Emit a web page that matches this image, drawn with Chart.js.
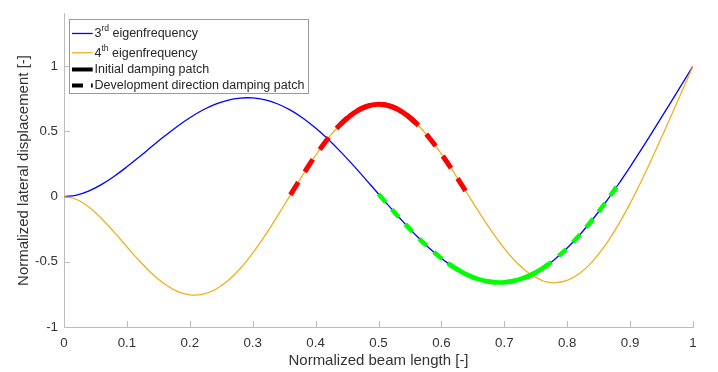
<!DOCTYPE html>
<html>
<head>
<meta charset="utf-8">
<title>Beam eigenmodes</title>
<script src="https://cdn.jsdelivr.net/npm/chart.js@4.4.1/dist/chart.umd.min.js"></script>
<style>
  body { margin: 0; background: #fff; }
  canvas { display: block; }
</style>
</head>
<body>
<canvas id="modeChart" width="718" height="372"></canvas>
<script>
// position along the beam (0 = clamped end, 1 = free tip)
const beamX = [
  0, 0.02, 0.04, 0.06, 0.08, 0.10, 0.12, 0.14, 0.16, 0.18, 0.20,
  0.22, 0.24, 0.26, 0.28, 0.30, 0.32, 0.34, 0.36, 0.38, 0.40,
  0.42, 0.44, 0.46, 0.48, 0.50, 0.52, 0.54, 0.56, 0.58, 0.60,
  0.61, 0.62, 0.64, 0.66, 0.68, 0.70, 0.72, 0.74, 0.76, 0.77, 0.78,
  0.80, 0.82, 0.84, 0.86, 0.88, 0.90, 0.92, 0.94, 0.96, 0.98, 1
];

// lateral displacement, normalised to the tip value
const thirdMode = [
  0, 0.0117, 0.0442, 0.0936, 0.1562, 0.2281, 0.3056, 0.3852, 0.4636, 0.5377, 0.6045,
  0.6616, 0.7069, 0.7385, 0.7553, 0.7562, 0.7410, 0.7097, 0.6627, 0.6010, 0.5259,
  0.4392, 0.3428, 0.2391, 0.1305, 0.0197, -0.0907, -0.1978, -0.2990, -0.3918, -0.4738,
  -0.5100, -0.5428, -0.5970, -0.6349, -0.6553, -0.6574, -0.6409, -0.6059, -0.5526, -0.5193, -0.4819,
  -0.3949, -0.2930, -0.1778, -0.0512, 0.0849, 0.2285, 0.3778, 0.5309, 0.6864, 0.8431, 1
];

const fourthMode = [
  0, -0.0224, -0.0826, -0.1699, -0.2740, -0.3850, -0.4936, -0.5913, -0.6709, -0.7265, -0.7538,
  -0.7501, -0.7146, -0.6482, -0.5532, -0.4339, -0.2954, -0.1440, 0.0131, 0.1687, 0.3156,
  0.4467, 0.5558, 0.6380, 0.6892, 0.7071, 0.6910, 0.6417, 0.5616, 0.4548, 0.3265,
  0.2562, 0.1830, 0.0313, -0.1210, -0.2663, -0.3974, -0.5076, -0.5911, -0.6434, -0.6568, -0.6613,
  -0.6430, -0.5884, -0.4988, -0.3769, -0.2264, -0.0520, 0.1409, 0.3471, 0.5616, 0.7801, 1
];

// damping patch extents along the beam
const redInitial = [0.44, 0.56];
const redDevelopment = [0.36, 0.64];
const greenInitial = [0.61, 0.77];
const greenDevelopment = [0.50, 0.88];

const xTicks = [0, 0.1, 0.2, 0.3, 0.4, 0.5, 0.6, 0.7, 0.8, 0.9, 1];
const yTicks = [-1, -0.5, 0, 0.5, 1];

// legend text: [main, superscript, rest]
const legendLabels = [
  ['3', 'rd', ' eigenfrequency'],
  ['4', 'th', ' eigenfrequency'],
  ['Initial damping patch'],
  ['Development direction damping patch']
];

const FONT = '"Liberation Sans", Arial, Helvetica, sans-serif';
const AXIS_COLOR = '#bdbdbd';
const TEXT_COLOR = '#333333';

function curve(ys, range) {
  const pts = [];
  beamX.forEach((x, i) => {
    if (!range || (x >= range[0] - 1e-9 && x <= range[1] + 1e-9)) {
      pts.push({ x: x, y: ys[i] });
    }
  });
  return pts;
}

// MATLAB style ticks pointing into the axes
const innerTicks = {
  id: 'innerTicks',
  beforeDatasetsDraw(chart) {
    const { ctx, chartArea, scales } = chart;
    const len = 6;
    ctx.save();
    ctx.strokeStyle = AXIS_COLOR;
    ctx.lineWidth = 1;
    ctx.beginPath();
    xTicks.forEach(v => {
      const x = Math.round(scales.x.getPixelForValue(v)) + 0.5;
      ctx.moveTo(x, chartArea.bottom);
      ctx.lineTo(x, chartArea.bottom - len);
    });
    yTicks.forEach(v => {
      const y = Math.round(scales.y.getPixelForValue(v)) + 0.5;
      ctx.moveTo(chartArea.left, y);
      ctx.lineTo(chartArea.left + len, y);
    });
    ctx.stroke();
    ctx.restore();
  }
};

// boxed legend with superscript ordinals
const patchLegend = {
  id: 'patchLegend',
  afterDraw(chart) {
    const { ctx, chartArea } = chart;
    const left = chartArea.left + 5.5;
    const top = chartArea.top + 5.5;
    const rowCenters = [14, 33.3, 50, 66];
    const samples = [
      { color: '#0000ff', width: 1.3, dash: [] },
      { color: '#edb120', width: 1.3, dash: [] },
      { color: '#000000', width: 4, dash: [] },
      { color: '#000000', width: 4, dash: [11, 8] }
    ];
    const mainFont = '12.5px ' + FONT;
    const supFont = '8.5px ' + FONT;
    const textX = left + 25;

    ctx.save();
    let maxW = 0;
    legendLabels.forEach(parts => {
      ctx.font = mainFont;
      let w = ctx.measureText(parts[0]).width;
      if (parts.length > 1) {
        ctx.font = supFont;
        w += ctx.measureText(parts[1]).width;
        ctx.font = mainFont;
        w += ctx.measureText(parts[2]).width;
      }
      maxW = Math.max(maxW, w);
    });
    const boxW = Math.round(textX + maxW + 4 - left);
    const boxH = 74;

    ctx.fillStyle = '#ffffff';
    ctx.fillRect(left, top, boxW, boxH);
    ctx.strokeStyle = '#9a9a9a';
    ctx.lineWidth = 1;
    ctx.strokeRect(left, top, boxW, boxH);

    legendLabels.forEach((parts, i) => {
      const cy = top + rowCenters[i];
      const s = samples[i];
      ctx.strokeStyle = s.color;
      ctx.lineWidth = s.width;
      ctx.setLineDash(s.dash);
      ctx.beginPath();
      ctx.moveTo(left + 2.5, cy);
      ctx.lineTo(left + 23.2, cy);
      ctx.stroke();
      ctx.setLineDash([]);

      const base = cy + 4;
      ctx.fillStyle = '#262626';
      ctx.textBaseline = 'alphabetic';
      ctx.textAlign = 'left';
      ctx.font = mainFont;
      let x = textX;
      ctx.fillText(parts[0], x, base);
      x += ctx.measureText(parts[0]).width;
      if (parts.length > 1) {
        ctx.font = supFont;
        ctx.fillText(parts[1], x, base - 6);
        x += ctx.measureText(parts[1]).width;
        ctx.font = mainFont;
        ctx.fillText(parts[2], x, base);
      }
    });
    ctx.restore();
  }
};

const lineBase = {
  pointRadius: 0,
  pointHoverRadius: 0,
  fill: false,
  tension: 0.4
};

new Chart(document.getElementById('modeChart'), {
  type: 'line',
  data: {
    datasets: [
      Object.assign({}, lineBase, {
        label: '3rd eigenfrequency',
        data: curve(thirdMode),
        borderColor: '#0000ff',
        borderWidth: 1.3,
        order: 5
      }),
      Object.assign({}, lineBase, {
        label: '4th eigenfrequency',
        data: curve(fourthMode),
        borderColor: '#edb120',
        borderWidth: 1.3,
        order: 4
      }),
      Object.assign({}, lineBase, {
        label: 'Development direction damping patch',
        data: curve(fourthMode, redDevelopment),
        borderColor: '#ff0000',
        borderWidth: 5,
        borderDash: [15, 12],
        order: 3
      }),
      Object.assign({}, lineBase, {
        label: 'Initial damping patch',
        data: curve(fourthMode, redInitial),
        borderColor: '#ff0000',
        borderWidth: 5,
        order: 2
      }),
      Object.assign({}, lineBase, {
        label: 'Development direction damping patch',
        data: curve(thirdMode, greenDevelopment),
        borderColor: '#00ff00',
        borderWidth: 4.5,
        borderDash: [11, 9],
        order: 1
      }),
      Object.assign({}, lineBase, {
        label: 'Initial damping patch',
        data: curve(thirdMode, greenInitial),
        borderColor: '#00ff00',
        borderWidth: 4.5,
        order: 0
      })
    ]
  },
  options: {
    responsive: false,
    animation: false,
    devicePixelRatio: 1,
    events: [],
    layout: { padding: { top: 5, right: 25, bottom: 0, left: 0 } },
    scales: {
      x: {
        type: 'linear',
        min: 0,
        max: 1,
        afterBuildTicks: s => { s.ticks = xTicks.map(v => ({ value: v })); },
        afterFit: s => { s.height = 45; },
        grid: { drawOnChartArea: false, drawTicks: false },
        border: { display: true, color: AXIS_COLOR, width: 1 },
        ticks: {
          color: TEXT_COLOR,
          font: { family: FONT, size: 13.3 },
          padding: 8,
          maxRotation: 0,
          autoSkip: false,
          callback: v => String(v)
        },
        title: {
          display: true,
          text: 'Normalized beam length [-]',
          color: TEXT_COLOR,
          font: { family: FONT, size: 15 },
          padding: { top: 0, bottom: 2 }
        }
      },
      y: {
        type: 'linear',
        min: -1,
        max: 1.4,
        afterBuildTicks: s => { s.ticks = yTicks.map(v => ({ value: v })); },
        afterFit: s => { s.width = 64; },
        grid: { drawOnChartArea: false, drawTicks: false },
        border: { display: true, color: AXIS_COLOR, width: 1 },
        ticks: {
          color: TEXT_COLOR,
          font: { family: FONT, size: 13.3 },
          padding: 6,
          autoSkip: false,
          callback: v => String(v)
        },
        title: {
          display: true,
          text: 'Normalized lateral displacement [-]',
          color: TEXT_COLOR,
          font: { family: FONT, size: 15 },
          padding: { top: 15, bottom: 0 }
        }
      }
    },
    plugins: {
      legend: { display: false },
      tooltip: { enabled: false }
    }
  },
  plugins: [innerTicks, patchLegend]
});
</script>
</body>
</html>
